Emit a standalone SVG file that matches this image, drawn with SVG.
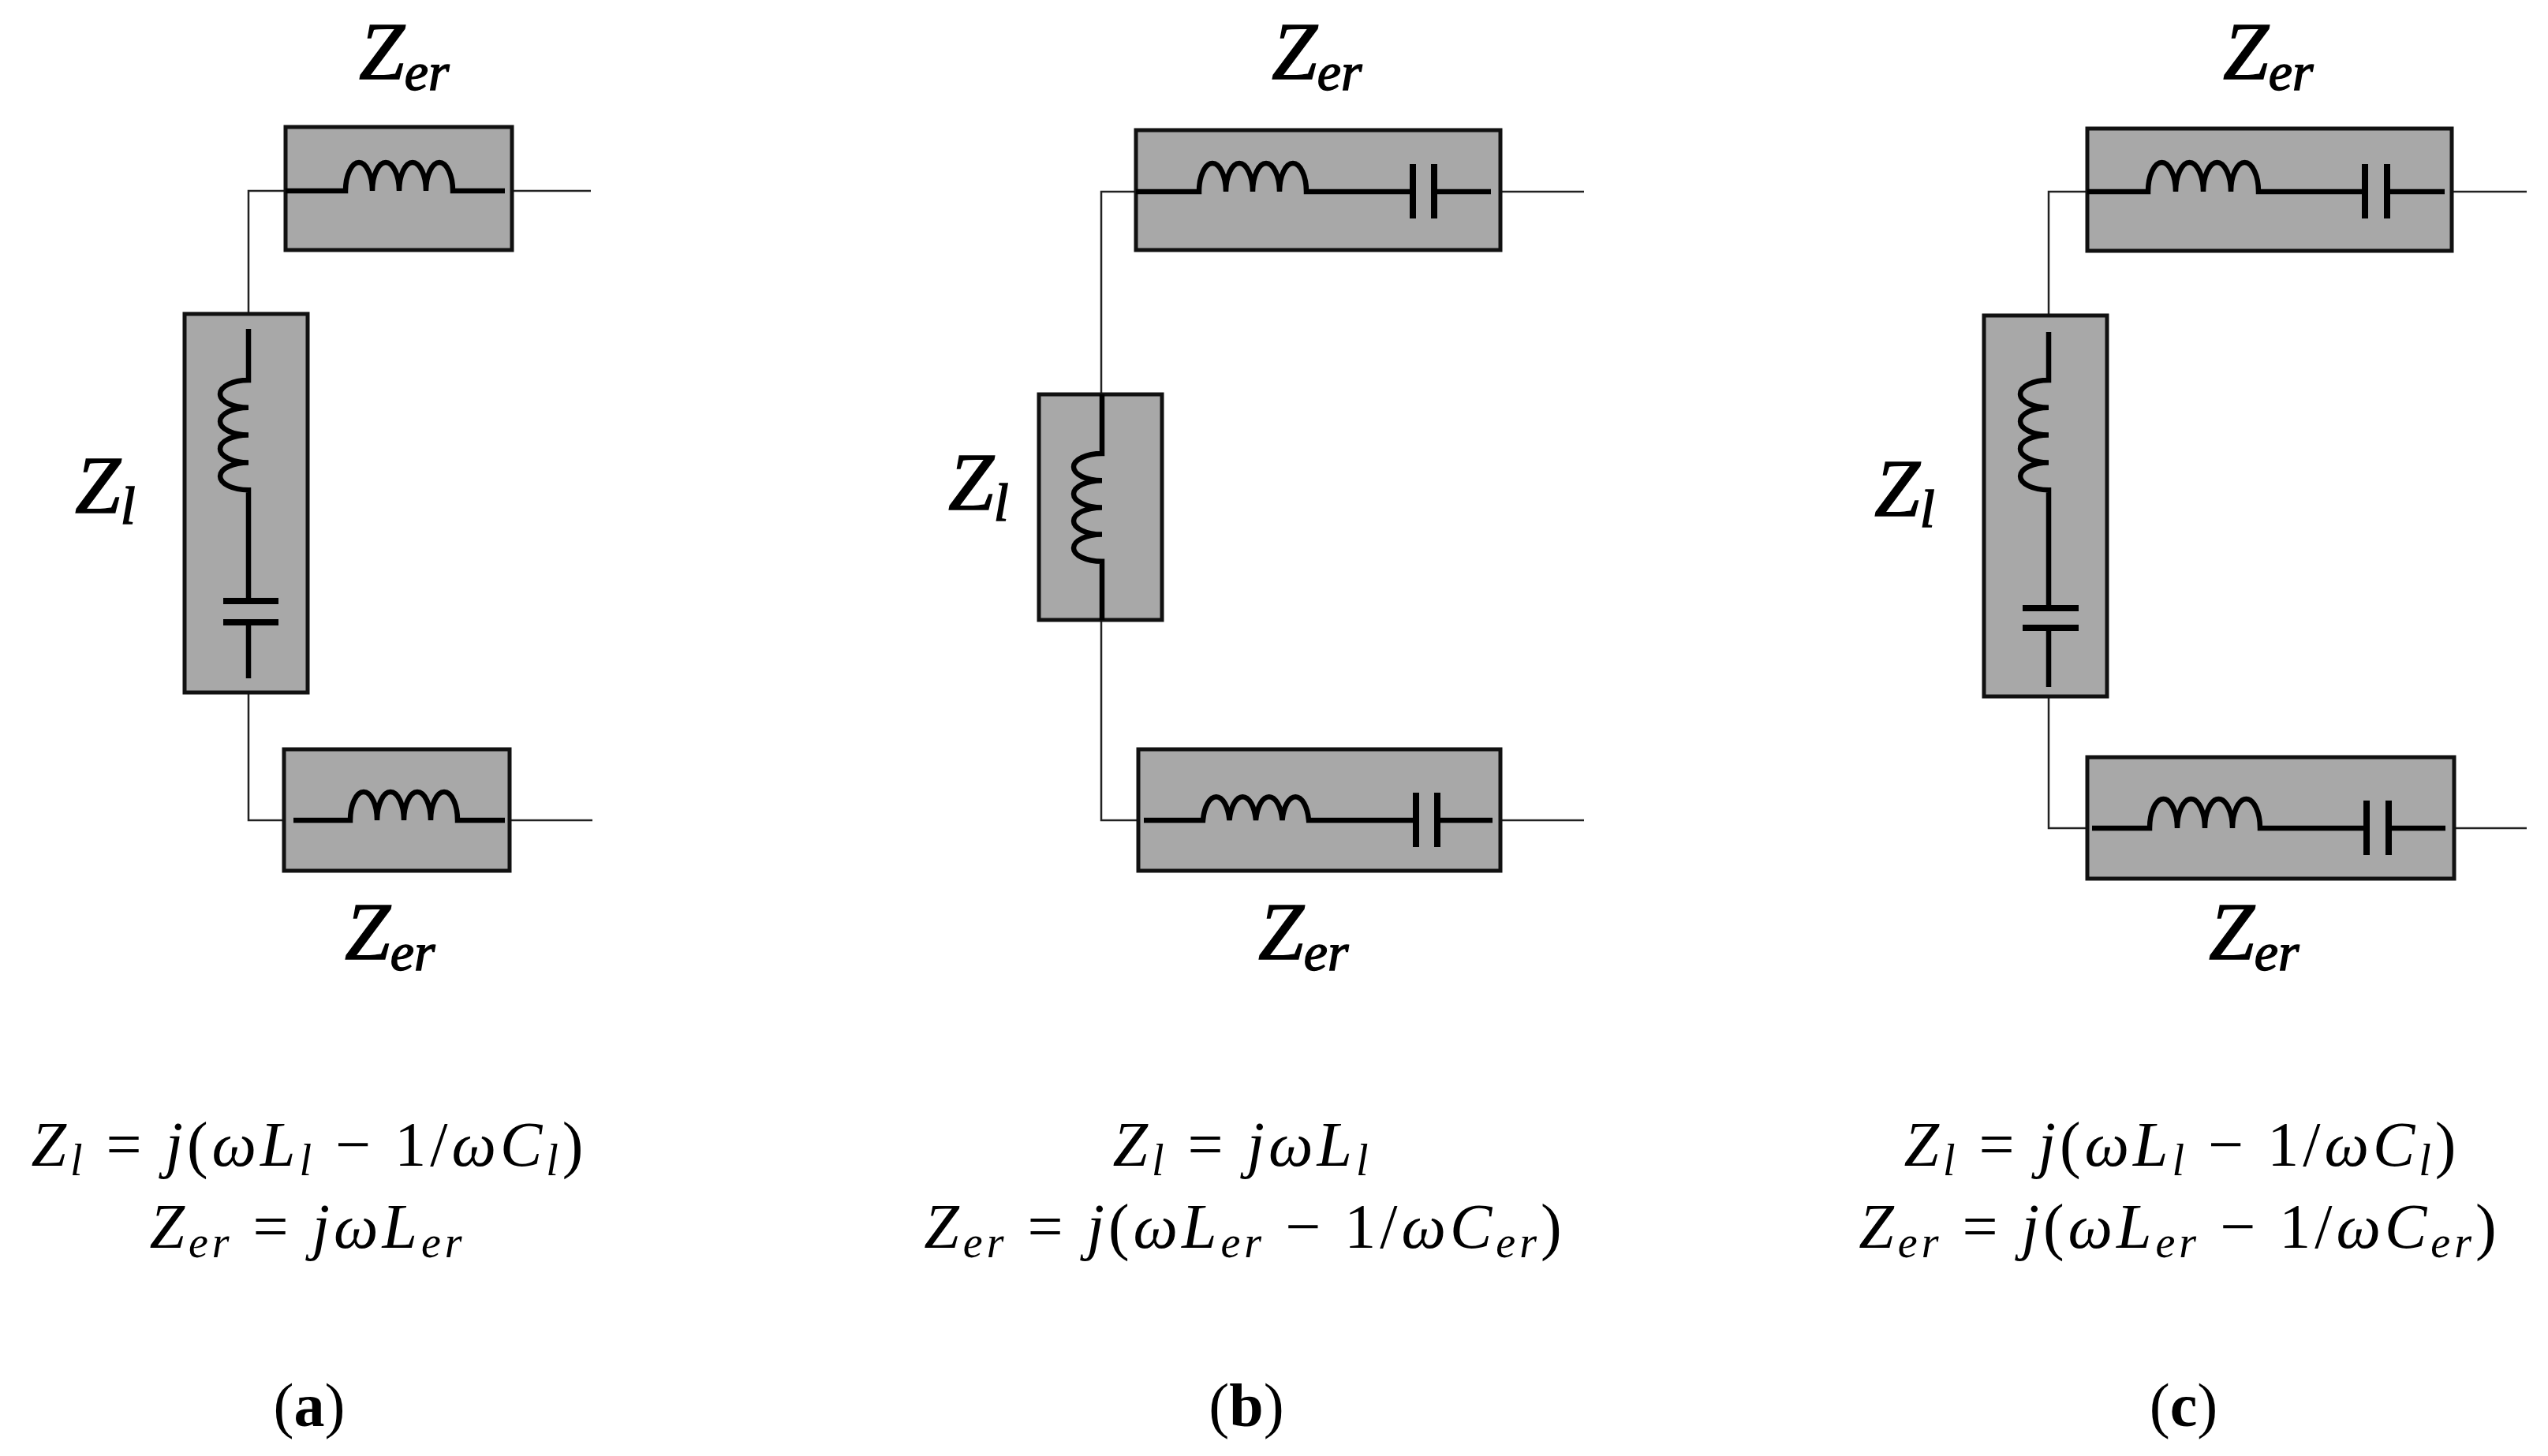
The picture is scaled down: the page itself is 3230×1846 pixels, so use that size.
<svg xmlns="http://www.w3.org/2000/svg" width="3230" height="1846" viewBox="0 0 3230 1846">
<style>
.box{fill:#a8a8a8;stroke:#111;stroke-width:5}
.w{fill:none;stroke:#222;stroke-width:2.5}
.t{fill:none;stroke:#000;stroke-width:6.5}
.p{fill:none;stroke:#000;stroke-width:8}
.lb{font-family:"Liberation Serif",serif;font-style:italic;font-size:104px;fill:#000;stroke:#000;stroke-width:1.5}
.sb{font-size:68px}
.eq{font-family:"Liberation Serif",serif;font-size:80px;fill:#000;text-anchor:middle;letter-spacing:5px}
.i{font-style:italic}
.s{font-style:italic;font-size:56px}
.cap{font-family:"Liberation Serif",serif;font-size:78px;fill:#000;text-anchor:middle}
</style>
<rect width="3230" height="1846" fill="#fff"/>
<g id="connectors">
<path class="w" d="M749,242 H315 V1040 H751"/>
<path class="w" d="M2008,243 H1396 V1040 H2008"/>
<path class="w" d="M3203,243 H2597 V1050 H3203"/>
</g>
<g id="a-top"><rect class="box" x="362" y="161" width="287" height="156"/>
<path class="t" d="M362,242 H438 a17,36 0 0 1 34,0 a17,36 0 0 1 34,0 a17,36 0 0 1 34,0 a17,36 0 0 1 34,0 H640"/>
<text class="lb" x="455" y="100">Z<tspan class="sb" dy="14">er</tspan></text></g>
<g id="a-zl"><rect class="box" x="234" y="398" width="156" height="480"/>
<path class="t" d="M315,417 V482 a36,17.4 0 0 0 0,34.8 a36,17.4 0 0 0 0,34.8 a36,17.4 0 0 0 0,34.8 a36,17.4 0 0 0 0,34.8 V762 M315,789 V860"/>
<path class="p" d="M283,762 H353 M283,789 H353"/>
<text class="lb" x="95" y="650">Z<tspan class="sb" dy="14">l</tspan></text></g>
<g id="a-bot"><rect class="box" x="360" y="950" width="286" height="154"/>
<path class="t" d="M372,1040 H444 a17,36 0 0 1 34,0 a17,36 0 0 1 34,0 a17,36 0 0 1 34,0 a17,36 0 0 1 34,0 H640"/>
<text class="lb" x="437" y="1216">Z<tspan class="sb" dy="14">er</tspan></text></g>

<g id="b-top"><rect class="box" x="1440" y="165" width="462" height="152"/>
<path class="t" d="M1440,243 H1520 a17,36 0 0 1 34,0 a17,36 0 0 1 34,0 a17,36 0 0 1 34,0 a17,36 0 0 1 34,0 H1791 M1818,243 H1890"/>
<path class="p" d="M1791,208 V277 M1818,208 V277"/>
<text class="lb" x="1612" y="100">Z<tspan class="sb" dy="14">er</tspan></text></g>
<g id="b-zl"><rect class="box" x="1317" y="500" width="156" height="286"/>
<path class="t" d="M1397,500 V575 a36,17.1 0 0 0 0,34.2 a36,17.1 0 0 0 0,34.2 a36,17.1 0 0 0 0,34.2 a36,17.1 0 0 0 0,34.2 V786"/>
<text class="lb" x="1202" y="646">Z<tspan class="sb" dy="14">l</tspan></text></g>
<g id="b-bot"><rect class="box" x="1443" y="950" width="459" height="154"/>
<path class="t" d="M1450,1040 H1525 a17,36 0 0 1 33.5,0 a17,36 0 0 1 33.5,0 a17,36 0 0 1 33.5,0 a17,36 0 0 1 33.5,0 H1795 M1822,1040 H1892"/>
<path class="p" d="M1795,1005 V1074 M1822,1005 V1074"/>
<text class="lb" x="1595" y="1216">Z<tspan class="sb" dy="14">er</tspan></text></g>

<g id="c-top"><rect class="box" x="2646" y="163" width="462" height="155"/>
<path class="t" d="M2646,243 H2723 a17,36 0 0 1 35,0 a17,36 0 0 1 35,0 a17,36 0 0 1 35,0 a17,36 0 0 1 35,0 H2998 M3026,243 H3099"/>
<path class="p" d="M2998,208 V277 M3026,208 V277"/>
<text class="lb" x="2818" y="100">Z<tspan class="sb" dy="14">er</tspan></text></g>
<g id="c-zl"><rect class="box" x="2515" y="400" width="156" height="483"/>
<path class="t" d="M2597,421 V482 a36,17.4 0 0 0 0,34.8 a36,17.4 0 0 0 0,34.8 a36,17.4 0 0 0 0,34.8 a36,17.4 0 0 0 0,34.8 V771 M2597,796 V871"/>
<path class="p" d="M2564,771 H2635 M2564,796 H2635"/>
<text class="lb" x="2376" y="654">Z<tspan class="sb" dy="14">l</tspan></text></g>
<g id="c-bot"><rect class="box" x="2646" y="960" width="465" height="154"/>
<path class="t" d="M2652,1050 H2725 a17,36 0 0 1 35,0 a17,36 0 0 1 35,0 a17,36 0 0 1 35,0 a17,36 0 0 1 35,0 H3000 M3028,1050 H3100"/>
<path class="p" d="M3000,1015 V1084 M3028,1015 V1084"/>
<text class="lb" x="2800" y="1216">Z<tspan class="sb" dy="14">er</tspan></text></g>

<g id="eq-a" xml:space="preserve">
<text class="eq" x="392" y="1478"><tspan class="i">Z</tspan><tspan class="s" dy="12">l</tspan><tspan dy="-12"> =  </tspan><tspan class="i">j</tspan>(<tspan class="i">ωL</tspan><tspan class="s" dy="12">l</tspan><tspan dy="-12"> − 1/</tspan><tspan class="i">ωC</tspan><tspan class="s" dy="12">l</tspan><tspan dy="-12">)</tspan></text>
<text class="eq" x="390" y="1582"><tspan class="i">Z</tspan><tspan class="s" dy="12">er</tspan><tspan dy="-12"> =  </tspan><tspan class="i">jωL</tspan><tspan class="s" dy="12">er</tspan></text>
<text class="cap" x="392" y="1808">(<tspan font-weight="bold">a</tspan>)</text>
</g>
<g id="eq-b" xml:space="preserve">
<text class="eq" x="1575" y="1478"><tspan class="i">Z</tspan><tspan class="s" dy="12">l</tspan><tspan dy="-12"> =  </tspan><tspan class="i">jωL</tspan><tspan class="s" dy="12">l</tspan></text>
<text class="eq" x="1578" y="1582"><tspan class="i">Z</tspan><tspan class="s" dy="12">er</tspan><tspan dy="-12"> =  </tspan><tspan class="i">j</tspan>(<tspan class="i">ωL</tspan><tspan class="s" dy="12">er</tspan><tspan dy="-12"> − 1/</tspan><tspan class="i">ωC</tspan><tspan class="s" dy="12">er</tspan><tspan dy="-12">)</tspan></text>
<text class="cap" x="1580" y="1808">(<tspan font-weight="bold">b</tspan>)</text>
</g>
<g id="eq-c" xml:space="preserve">
<text class="eq" x="2766" y="1478"><tspan class="i">Z</tspan><tspan class="s" dy="12">l</tspan><tspan dy="-12"> =  </tspan><tspan class="i">j</tspan>(<tspan class="i">ωL</tspan><tspan class="s" dy="12">l</tspan><tspan dy="-12"> − 1/</tspan><tspan class="i">ωC</tspan><tspan class="s" dy="12">l</tspan><tspan dy="-12">)</tspan></text>
<text class="eq" x="2763" y="1582"><tspan class="i">Z</tspan><tspan class="s" dy="12">er</tspan><tspan dy="-12"> =  </tspan><tspan class="i">j</tspan>(<tspan class="i">ωL</tspan><tspan class="s" dy="12">er</tspan><tspan dy="-12"> − 1/</tspan><tspan class="i">ωC</tspan><tspan class="s" dy="12">er</tspan><tspan dy="-12">)</tspan></text>
<text class="cap" x="2768" y="1808">(<tspan font-weight="bold">c</tspan>)</text>
</g>
</svg>
